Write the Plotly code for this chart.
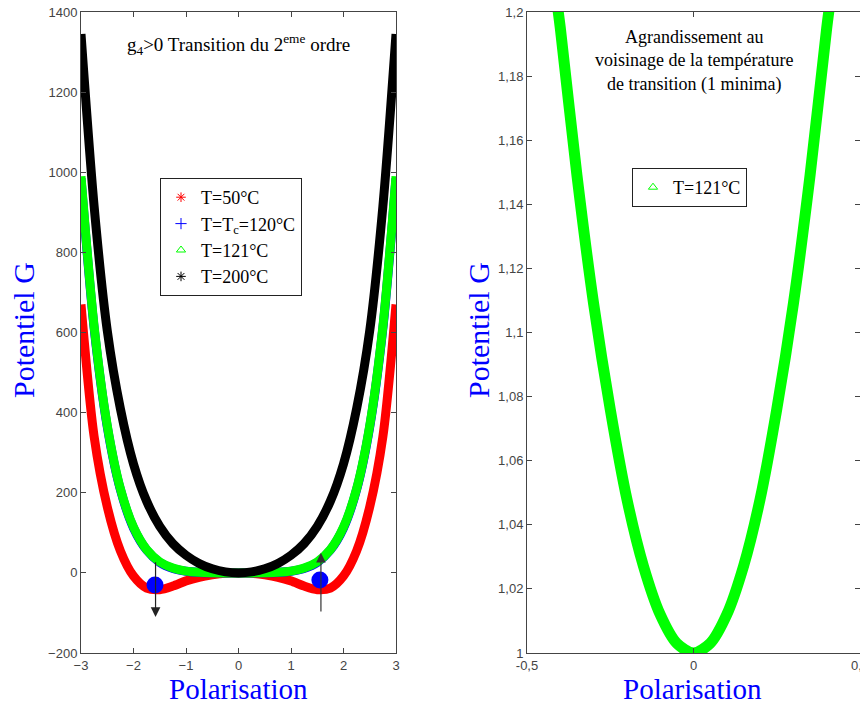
import plotly.graph_objects as go

# ---- data: left panel ----
P_left = [-3, -2.75, -2.5, -2.25, -2, -1.75, -1.5, -1.25, -1, -0.75, -0.5, -0.25, 0,
          0.25, 0.5, 0.75, 1, 1.25, 1.5, 1.75, 2, 2.25, 2.5, 2.75, 3]
G_T50 = [670, 340, 165, 55, -8, -38, -42, -33, -20, -11, -5, -1, 0,
         -1, -5, -11, -20, -33, -42, -38, -8, 55, 165, 340, 670]
G_Tc = [985, 611, 365, 208, 112, 57, 26, 11, 4, 1.1, 0.2, 0, 0,
        0, 0.2, 1.1, 4, 11, 26, 57, 112, 208, 365, 611, 985]
G_T121 = [990, 615, 368, 210, 114, 58, 27.5, 12, 4.4, 1.4, 0.3, 0, 0,
          0, 0.3, 1.4, 4.4, 12, 27.5, 58, 114, 210, 368, 615, 990]
G_T200 = [1345, 915, 605, 410, 272, 179, 116, 73, 44, 23.6, 10.2, 2.5, 0,
          2.5, 10.2, 23.6, 44, 73, 116, 179, 272, 410, 605, 915, 1345]

# blue points marking the minima at Tc
P_dots = [-1.59, 1.55]
G_dots = [-30, -18]

# ---- data: right panel (zoom near transition) ----
P_right = [-0.41, -0.4, -0.35, -0.3, -0.25, -0.2, -0.15, -0.1, -0.05, 0,
           0.05, 0.1, 0.15, 0.2, 0.25, 0.3, 0.35, 0.4, 0.41]
G_right = [1.203, 1.195, 1.149, 1.109, 1.076, 1.048, 1.027, 1.012, 1.003, 1.0,
           1.003, 1.012, 1.027, 1.048, 1.076, 1.109, 1.149, 1.195, 1.203]

left_xticks = [-3, -2, -1, 0, 1, 2, 3]
left_yticks = [-200, 0, 200, 400, 600, 800, 1000, 1200, 1400]
right_xticks = [-0.5, 0, 0.5]
right_xtext = ["-0,5", "0", "0,5"]
right_yticks = [1, 1.02, 1.04, 1.06, 1.08, 1.1, 1.12, 1.14, 1.16, 1.18, 1.2]
right_ytext = ["1", "1,02", "1,04", "1,06", "1,08", "1,1", "1,12", "1,14", "1,16", "1,18", "1,2"]

RED, BLUE, GREEN, BLACK = "#ff0000", "#0000ff", "#00ff00", "#000000"
SERIF = "Liberation Serif, Times New Roman, serif"
SANS = "Liberation Sans, Arial, sans-serif"

# pixel layout helpers (page pixels; the page body adds an 8px offset)
OFF = 8
FW, FH = 868 - OFF, 704 - OFF
ML, MT = 81 - OFF, 12 - OFF
MR, MB = FW - (860 - OFF), FH - (653 - OFF)
PW, PH = FW - ML - MR, FH - MT - MB
def px(x):
    return (x - OFF - ML) / PW
def py(y):
    return (FH - MB - (y - OFF)) / PH

fig = go.Figure()
W = 9
for y, c in [(G_T50, RED), (G_Tc, BLUE), (G_T121, GREEN), (G_T200, BLACK)]:
    fig.add_trace(go.Scatter(x=P_left, y=y, mode="lines", line=dict(color=c, width=W, shape="spline", smoothing=0.8),
                             showlegend=False, xaxis="x", yaxis="y", hoverinfo="skip"))
fig.add_trace(go.Scatter(x=P_dots, y=G_dots, mode="markers", marker=dict(color=BLUE, size=17),
                         showlegend=False, xaxis="x", yaxis="y"))

# legend-only entries (left)
for name, c, sym in [("T=50°C", RED, "asterisk-open"), ("T=T<sub>c</sub>=120°C", BLUE, "cross-thin-open"),
                     ("T=121°C", GREEN, "triangle-up-open"), ("T=200°C", BLACK, "asterisk-open")]:
    fig.add_trace(go.Scatter(x=[None], y=[None], mode="markers", name=name,
                             marker=dict(color=c, symbol=sym, size=8, line=dict(color=c, width=1)),
                             xaxis="x", yaxis="y", legend="legend"))

# right panel
fig.add_trace(go.Scatter(x=P_right, y=G_right, mode="lines", line=dict(color=GREEN, width=11, shape="spline", smoothing=0.8),
                         showlegend=False, xaxis="x2", yaxis="y2", hoverinfo="skip"))
fig.add_trace(go.Scatter(x=[None], y=[None], mode="markers", name="T=121°C",
                         marker=dict(color=GREEN, symbol="triangle-up-open", size=8, line=dict(color=GREEN, width=1)),
                         xaxis="x2", yaxis="y2", legend="legend2"))

axis_common = dict(showline=True, linecolor="#444", linewidth=1, mirror="ticks", ticks="inside",
                   ticklen=5, tickcolor="#444", showgrid=False, zeroline=False, automargin=False,
                   ticklabeloverflow="allow",
                   tickfont=dict(family=SANS, size=13, color="#444"))

fig.update_layout(
    width=FW, height=FH, margin=dict(l=ML, r=MR, t=MT, b=MB, autoexpand=False),
    plot_bgcolor="white", paper_bgcolor="white",
    xaxis=dict(domain=[px(81), px(396)], range=[-3, 3], tickvals=left_xticks, anchor="y", **axis_common),
    yaxis=dict(domain=[0, 1], range=[-200, 1400], tickvals=left_yticks, anchor="x", **axis_common),
    xaxis2=dict(domain=[px(527), px(860)], range=[-0.5, 0.5], tickvals=right_xticks, ticktext=right_xtext,
                anchor="y2", **axis_common),
    yaxis2=dict(domain=[0, 1], range=[1, 1.2], tickvals=right_yticks, ticktext=right_ytext,
                anchor="x2", **axis_common),
    legend=dict(x=px(160), y=py(178), xanchor="left", yanchor="top", bgcolor="white",
                bordercolor="#222", borderwidth=1, font=dict(family=SERIF, size=18, color="black"),
                tracegroupgap=0, itemwidth=30),
    legend2=dict(x=px(632), y=py(168), xanchor="left", yanchor="top", bgcolor="white",
                 bordercolor="#222", borderwidth=1, font=dict(family=SERIF, size=18, color="black"),
                 itemwidth=30),
)

ann = []
ann.append(dict(text="g<sub>4</sub>>0 Transition du 2<sup>eme</sup> ordre", x=px(238), y=py(45),
                xref="paper", yref="paper", xanchor="center", yanchor="middle", showarrow=False,
                font=dict(family=SERIF, size=19, color="black")))
ann.append(dict(text="Agrandissement au<br>voisinage de la température<br>de transition (1 minima)",
                x=px(694), y=py(61), xref="paper", yref="paper", xanchor="center", yanchor="middle",
                showarrow=False, font=dict(family=SERIF, size=18, color="black")))
for xc in [238, 692]:
    ann.append(dict(text="Polarisation", x=px(xc), y=py(689), xref="paper", yref="paper",
                    xanchor="center", yanchor="middle", showarrow=False,
                    font=dict(family=SERIF, size=29, color=BLUE)))
for xc in [23, 478]:
    ann.append(dict(text="Potentiel G", x=px(xc), y=py(330), xref="paper", yref="paper",
                    xanchor="center", yanchor="middle", showarrow=False,
                    textangle=-90, font=dict(family=SERIF, size=30, color=BLUE)))
# arrows
ann.append(dict(x=-1.58, y=-110, ax=-1.58, ay=30, xref="x", yref="y", axref="x", ayref="y",
                showarrow=True, arrowhead=2, arrowsize=1.6, arrowwidth=1.2, arrowcolor="#222", text=""))
ann.append(dict(x=1.57, y=50, ax=1.57, ay=-100, xref="x", yref="y", axref="x", ayref="y",
                showarrow=True, arrowhead=2, arrowsize=1.6, arrowwidth=1.2, arrowcolor="#333", text=""))
fig.update_layout(annotations=ann)

fig.write_html("out.html")
